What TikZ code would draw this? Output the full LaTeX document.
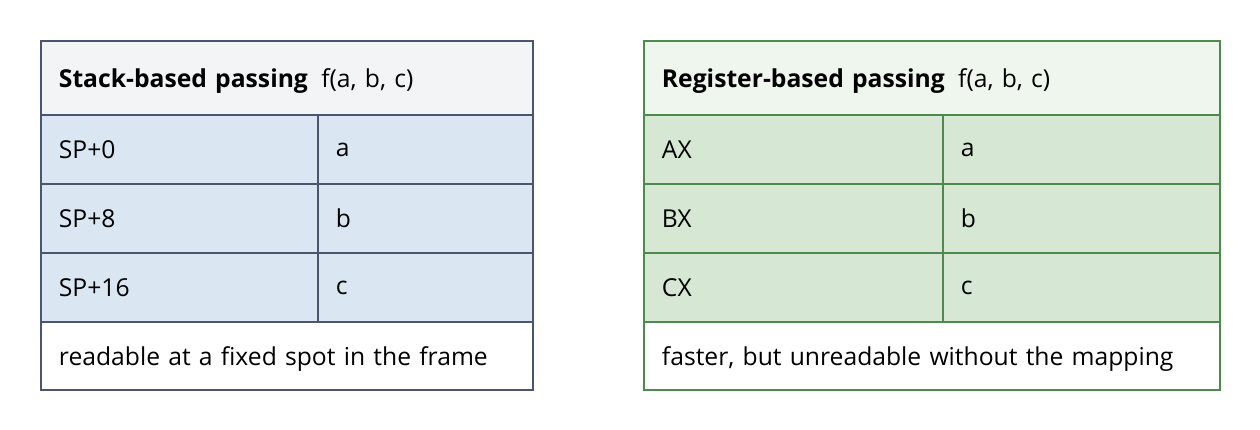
\documentclass[tikz,border=0pt]{standalone}
\usepackage{fontspec}
\setmainfont{Open Sans}
\definecolor{slateline}{HTML}{4B5570}
\definecolor{slatehead}{HTML}{F3F4F6}
\definecolor{bluecell}{HTML}{DAE7F3}
\definecolor{greenline}{HTML}{4E8A4E}
\definecolor{greenhead}{HTML}{EEF6EE}
\definecolor{greencell}{HTML}{D6E8D4}
\begin{document}
\begin{tikzpicture}[x=0.75pt,y=-0.75pt]

      \tikzset{cell/.style={draw, line width=1.4pt, anchor=north west, inner sep=0pt, text depth=0pt, font=\fontsize{18.5}{21}\selectfont, text width=#1, minimum height=51.75pt, align=left, execute at begin node=\hspace*{13.5pt}},
               cell/.default=0pt}
      \useasboundingbox (0,0) rectangle (1260,429);
%% Stack table
      	\node[cell={369pt}, minimum height=55.5pt, draw=slateline, fill=slatehead] (sHead) at (40,40) {\textbf{Stack-based passing}\hspace{10pt}f(a, b, c)};
      	\node[cell={207.75pt}, draw=slateline, fill=bluecell] (s1) at (40,114) {SP+0};
      	\node[cell={161.25pt}, draw=slateline, fill=bluecell] (v1) at (317,114) {a};
      	\node[cell={207.75pt}, draw=slateline, fill=bluecell] (s2) at (40,183) {SP+8};
      	\node[cell={161.25pt}, draw=slateline, fill=bluecell] (v2) at (317,183) {b};
      	\node[cell={207.75pt}, draw=slateline, fill=bluecell] (s3) at (40,252) {SP+16};
      	\node[cell={161.25pt}, draw=slateline, fill=bluecell] (v3) at (317,252) {c};
      	\node[cell={369pt}, minimum height=51pt, draw=slateline, fill=white] (sFoot) at (40,321) {readable at a fixed spot in the frame};
%% Register table
      	\node[cell={432pt}, minimum height=55.5pt, draw=greenline, fill=greenhead] (rHead) at (643,40) {\textbf{Register-based passing}\hspace{10pt}f(a, b, c)};
      	\node[cell={224.25pt}, draw=greenline, fill=greencell] (r1) at (643,114) {AX};
      	\node[cell={207.75pt}, draw=greenline, fill=greencell] (w1) at (942,114) {a};
      	\node[cell={224.25pt}, draw=greenline, fill=greencell] (r2) at (643,183) {BX};
      	\node[cell={207.75pt}, draw=greenline, fill=greencell] (w2) at (942,183) {b};
      	\node[cell={224.25pt}, draw=greenline, fill=greencell] (r3) at (643,252) {CX};
      	\node[cell={207.75pt}, draw=greenline, fill=greencell] (w3) at (942,252) {c};
      	\node[cell={432pt}, minimum height=51pt, draw=greenline, fill=white] (rFoot) at (643,321) {faster, but unreadable without the mapping};
	\end{tikzpicture}
\end{document}
